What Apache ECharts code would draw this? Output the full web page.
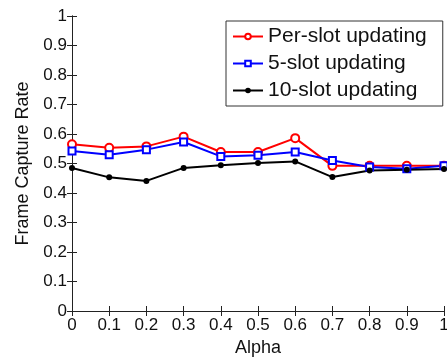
<!DOCTYPE html>
<html>
<head>
<meta charset="utf-8">
<script src="https://cdn.jsdelivr.net/npm/echarts@6/dist/echarts.min.js"></script>
<style>
  html, body { margin: 0; padding: 0; background: #fff; }
  #chart { width: 447px; height: 358px; }
</style>
</head>
<body>
<div id="chart"></div>
<script>
var alpha = [0, 0.1, 0.2, 0.3, 0.4, 0.5, 0.6, 0.7, 0.8, 0.9, 1];
var perSlot = [0.565, 0.553, 0.558, 0.591, 0.539, 0.539, 0.586, 0.492, 0.492, 0.492, 0.492];
var fiveSlot = [0.542, 0.530, 0.547, 0.573, 0.524, 0.528, 0.539, 0.510, 0.488, 0.482, 0.492];
var tenSlot = [0.485, 0.453, 0.441, 0.485, 0.494, 0.502, 0.507, 0.454, 0.476, 0.479, 0.481];
var seriesNames = ['Per-slot updating', '5-slot updating', '10-slot updating'];

var FONT = 'Liberation Sans, Arial, Helvetica, sans-serif';

function pairs(ys) {
  return alpha.map(function (a, i) { return [a, ys[i]]; });
}

var chart = echarts.init(document.getElementById('chart'), null, { renderer: 'canvas' });

var axisLine = { show: true, lineStyle: { color: '#222', width: 1 } };
var tick = { show: true, inside: true, length: 5, lineStyle: { color: '#222' } };

var option = {
  backgroundColor: '#fff',
  animation: false,
  grid: { left: 72, right: 3, top: 16, bottom: 47, containLabel: false, outerBoundsMode: 'none' },
  legend: {
    orient: 'vertical',
    left: 226,
    top: 21,
    padding: [5, 16, 5, 6],
    itemGap: 6,
    itemWidth: 30,
    itemHeight: 7,
    borderColor: '#333',
    borderWidth: 1,
    backgroundColor: '#fff',
    textStyle: { fontFamily: FONT, fontSize: 21, color: '#111', lineHeight: 21 },
    data: seriesNames
  },
  xAxis: [{
    type: 'value', min: 0, max: 1, interval: 0.1,
    name: 'Alpha', nameLocation: 'middle', nameGap: 28,
    nameTextStyle: { fontFamily: FONT, fontSize: 18, color: '#111' },
    axisLine: axisLine, axisTick: tick, splitLine: { show: false },
    axisLabel: { fontFamily: FONT, fontSize: 17, color: '#111', margin: 6, showMaxLabel: true }
  }, {
    type: 'value', position: 'top', min: 0, max: 1, interval: 0.1,
    axisLine: axisLine, axisTick: tick, axisLabel: { show: false }, splitLine: { show: false }
  }],
  yAxis: [{
    type: 'value', min: 0, max: 1, interval: 0.1,
    name: 'Frame Capture Rate', nameLocation: 'middle', nameGap: 40,
    nameTextStyle: { fontFamily: FONT, fontSize: 18, color: '#111' },
    axisLine: axisLine, axisTick: tick, splitLine: { show: false },
    axisLabel: { fontFamily: FONT, fontSize: 17, color: '#111', margin: 5 }
  }, {
    type: 'value', position: 'right', min: 0, max: 1, interval: 0.1,
    axisLine: axisLine, axisTick: tick, axisLabel: { show: false }, splitLine: { show: false }
  }],
  series: [{
    name: seriesNames[0], type: 'line', data: pairs(perSlot),
    symbol: 'emptyCircle', symbolSize: 8,
    lineStyle: { color: '#ff0000', width: 2 },
    itemStyle: { color: '#ff0000', borderColor: '#ff0000', borderWidth: 1.5 }
  }, {
    name: seriesNames[1], type: 'line', data: pairs(fiveSlot),
    symbol: 'emptyRect', symbolSize: 7,
    lineStyle: { color: '#0000ff', width: 2 },
    itemStyle: { color: '#0000ff', borderColor: '#0000ff', borderWidth: 1.5 }
  }, {
    name: seriesNames[2], type: 'line', data: pairs(tenSlot),
    symbol: 'circle', symbolSize: 6,
    lineStyle: { color: '#000', width: 2 },
    itemStyle: { color: '#000' }
  }]
};

chart.setOption(option);
</script>
</body>
</html>
